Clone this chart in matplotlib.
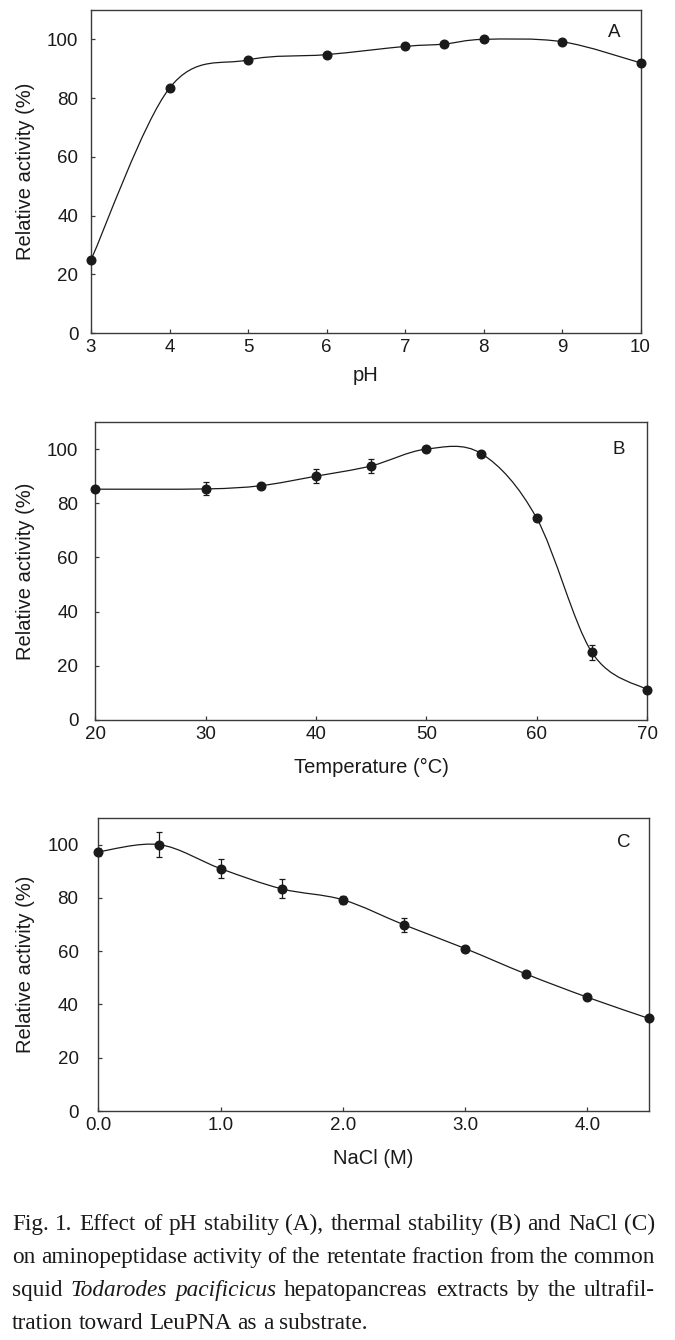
import matplotlib
matplotlib.use("Agg")
import matplotlib.pyplot as plt
import numpy as np
from matplotlib.path import Path
from matplotlib.patches import PathPatch
from matplotlib.transforms import blended_transform_factory

# --- data -----------------------------------------------------------------
# (A) pH stability
ph = [3, 4, 5, 6, 7, 7.5, 8, 9, 10]
ph_activity = [24.9, 83.4, 93.0, 94.8, 97.6, 98.4, 100.0, 99.2, 92.0]

# (B) thermal stability
temp = [20, 30, 35, 40, 45, 50, 55, 60, 65, 70]
temp_activity = [85.2, 85.3, 86.5, 90.0, 93.8, 100.0, 98.3, 74.5, 25.0, 11.2]
temp_err = [0.5, 2.4, 1.0, 2.6, 2.6, 0.8, 1.0, 1.0, 2.7, 0.6]

# (C) NaCl
nacl = [0.0, 0.5, 1.0, 1.5, 2.0, 2.5, 3.0, 3.5, 4.0, 4.5]
nacl_activity = [97.3, 100.0, 91.0, 83.4, 79.3, 69.9, 61.0, 51.4, 42.7, 34.8]
nacl_err = [1.5, 4.7, 3.5, 3.6, 1.6, 2.7, 0.8, 0.8, 0.8, 0.5]

ph_ticks = [3, 4, 5, 6, 7, 8, 9, 10]
temp_ticks = [20, 30, 40, 50, 60, 70]
nacl_ticks = [0.0, 1.0, 2.0, 3.0, 4.0]
y_ticks = [0, 20, 40, 60, 80, 100]

caption_lines = [
    [("Fig.", "normal"), ("1.", "normal"), ("Effect", "normal"), ("of", "normal"),
     ("pH", "normal"), ("stability", "normal"), ("(A),", "normal"), ("thermal", "normal"),
     ("stability", "normal"), ("(B)", "normal"), ("and", "normal"), ("NaCl", "normal"),
     ("(C)", "normal")],
    [(w, "normal") for w in
     "on aminopeptidase activity of the retentate fraction from the common".split()],
    [("squid", "normal"), ("Todarodes", "italic"), ("pacificicus", "italic"),
     ("hepatopancreas", "normal"), ("extracts", "normal"), ("by", "normal"),
     ("the", "normal"), ("ultrafil-", "normal")],
    [(w, "normal") for w in "tration toward LeuPNA as a substrate.".split()],
]

W, H = 675, 1340
SANS = ["Liberation Sans Narrow", "Liberation Sans", "DejaVu Sans"]
SERIF = ["Liberation Serif", "DejaVu Serif"]
INK = "#1a1a1a"
SPINE = "#3a3a3a"

plt.rcParams["font.family"] = SANS


def smooth_path(x, y):
    """Excel-like smoothed line through the points (Catmull-Rom as Bezier)."""
    pts = np.column_stack([np.asarray(x, float), np.asarray(y, float)])
    ext = np.vstack([pts[0], pts, pts[-1]])
    verts = [pts[0]]
    codes = [Path.MOVETO]
    for i in range(len(pts) - 1):
        p0, p1, p2, p3 = ext[i], ext[i + 1], ext[i + 2], ext[i + 3]
        verts += [p1 + (p2 - p0) / 6, p2 - (p3 - p1) / 6, p2]
        codes += [Path.CURVE4] * 3
    return Path(verts, codes)


def px_axes(left, right, top, bottom):
    return fig.add_axes([left / W, 1 - bottom / H, (right - left) / W, (bottom - top) / H])


def draw_panel(ax, box, x, y, err, xlim, xticks, xfmt, xlabel, letter, letter_pos, label_top):
    left, right, top, bottom = box
    ax.add_patch(PathPatch(smooth_path(x, y), fill=False, edgecolor=INK, lw=0.9, zorder=2))
    if err is not None:
        ax.errorbar(x, y, yerr=err, fmt="none", ecolor=INK, elinewidth=0.9,
                    capsize=2.2, capthick=0.9, zorder=3)
    ax.plot(x, y, "o", color=INK, markersize=6.2, zorder=4, clip_on=False)

    ax.set_xlim(*xlim)
    ax.set_ylim(0, 110)
    ax.set_xticks(xticks)
    ax.set_xticklabels([xfmt.format(t) for t in xticks])
    ax.set_yticks(y_ticks)
    for s in ax.spines.values():
        s.set_color(SPINE)
        s.set_linewidth(1.0)
    ax.tick_params(direction="in", length=3, width=0.9, color=SPINE,
                   labelsize=13.5, labelcolor=INK)
    ax.tick_params(axis="x", pad=4.5)
    ax.tick_params(axis="y", pad=(left - 78.5) * 0.72)

    ax.set_xlabel(xlabel, fontsize=14.5, color=INK)
    ax.xaxis.set_label_coords(0.5, 1 - label_top / H,
                              transform=blended_transform_factory(ax.transAxes, fig.transFigure))
    ax.set_ylabel("Relative activity (%)", fontsize=14.5, color=INK)
    ax.yaxis.set_label_coords(35.5 / W, 0.5,
                              transform=blended_transform_factory(fig.transFigure, ax.transAxes))
    ax.text(letter_pos[0], letter_pos[1], letter, transform=ax.transAxes,
            ha="center", va="center", fontsize=13.5, color=INK)


fig = plt.figure(figsize=(W / 100, H / 100), dpi=100)

box_a = (91, 640.5, 10, 333)
box_b = (95.3, 647, 422, 720)
box_c = (98.3, 648.5, 818, 1111)

ax_a = px_axes(*box_a)
draw_panel(ax_a, box_a, ph, ph_activity, None, (3, 10), ph_ticks, "{:g}", "pH",
           "A", (0.953, 0.93), 366)

ax_b = px_axes(*box_b)
draw_panel(ax_b, box_b, temp, temp_activity, temp_err, (20, 70), temp_ticks, "{:g}",
           "Temperature (\u00b0C)", "B", (0.949, 0.908), 758)

ax_c = px_axes(*box_c)
draw_panel(ax_c, box_c, nacl, nacl_activity, nacl_err, (0, 4.5), nacl_ticks, "{:.1f}",
           "NaCl (M)", "C", (0.955, 0.917), 1149)

# --- justified caption -------------------------------------------------------
renderer = fig.canvas.get_renderer()
cap_left, cap_right = 12, 655
baselines = [1230, 1263, 1296, 1329]


def word_width(word, style, size):
    t = fig.text(0, 0, word, fontsize=size, family=SERIF, style=style)
    w = t.get_window_extent(renderer).width
    t.remove()
    return w


space_ref = word_width("a a", "normal", 10) - 2 * word_width("a", "normal", 10)
natural = []
for line in caption_lines:
    ws = sum(word_width(w, s, 10) for w, s in line)
    natural.append(ws + space_ref * (len(line) - 1))
cap_size = 10 * (cap_right - cap_left) * 1.005 / max(natural)

for i, line in enumerate(caption_lines):
    widths = [word_width(w, s, cap_size) for w, s in line]
    if i < len(caption_lines) - 1:
        gap = ((cap_right - cap_left) - sum(widths)) / (len(line) - 1)
    else:
        gap = space_ref * cap_size / 10
    xpos = cap_left
    for (w, s), wd in zip(line, widths):
        fig.text(xpos / W, 1 - baselines[i] / H, w, fontsize=cap_size, family=SERIF,
                 style=s, ha="left", va="baseline", color=INK)
        xpos += wd + gap

fig.savefig("out.png", dpi=100)
